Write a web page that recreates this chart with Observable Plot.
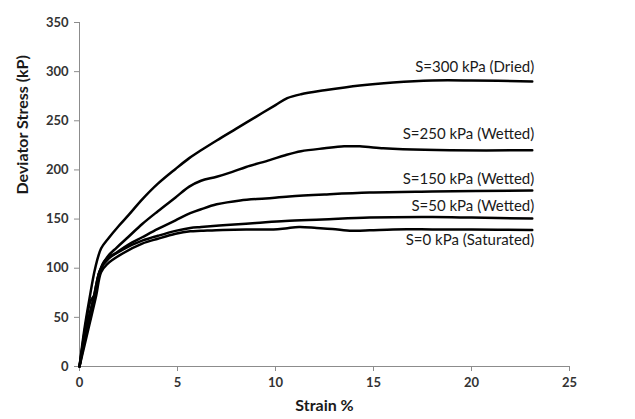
<!DOCTYPE html>
<html><head><meta charset="utf-8">
<script src="https://cdn.jsdelivr.net/npm/d3@7"></script>
<script src="https://cdn.jsdelivr.net/npm/@observablehq/plot@0.6"></script>
<style>body{margin:0;background:#fff}</style>
</head><body><div id="chart"></div>
<script>
// Series data (strain %, deviator stress kPa)
const strain300 = [0,0.25,0.5,0.8,1.1,1.5,2.0,2.5,3.2,4.0,4.9,5.6,6.2,7,8,9,10,10.6,11.3,12.5,14.3,16,18,20,23.1];
const stress300 = [0,38,68,100,120,131,143,154,170,186,201,212,220,230,242,254,266,273,277,281,286,289,291,291,290];

const strain250 = [0,0.3,0.55,0.8,1.0,1.4,1.9,2.5,3.2,4.0,4.9,5.6,6.2,7.0,7.8,8.5,9.7,10.5,11.3,12.5,13.5,14.3,15.5,16.5,18.9,23.1];
const stress250 = [0,40,66,74,95,111,121,132,145,158,172,183,189,193,198,203,210,215,219,222,224,224,222,221,220,220];

const strain150 = [0,0.35,0.7,1.0,1.3,1.9,2.5,3.2,4.0,4.9,5.65,6.2,7.0,8.2,9.5,10.7,12.5,14.8,18,23.1];
const stress150 = [0,40,68,95,108,116,124,131.5,140,148.7,156,160,165,169,171,173,175,177,178,179];

const strain50 = [0,0.4,0.75,1.05,1.5,2.3,3.2,4.0,4.9,5.65,6.2,7.5,9.0,10.5,12.4,14.8,18,20,23.1];
const stress50 = [0,40,72,98,110,120,128,133,138,141,142,144,146,148,149.5,151.5,152,151.5,150.5];

const strain0 = [0,0.45,0.85,1.1,1.4,2.2,3.2,4.0,4.9,5.65,6.2,7.3,8.5,9.9,10.5,11.2,12.1,12.9,13.9,14.8,16,18,20,23.1];
const stress0 = [0,38,72,96,104,115,125,130,135,137.5,138,139,139.5,139.5,140.5,142,141,140,138.2,138.5,139.5,139.5,139.3,139];

const seriesNames = ["S=300 kPa (Dried)","S=250 kPa (Wetted)","S=150 kPa (Wetted)","S=50 kPa (Wetted)","S=0 kPa (Saturated)"];
const labelStrain = [23.1,23.1,23.1,23.1,23.1];
const labelStress = [304.5,236,191,163,129];

const xTicks = [0,5,10,15,20,25];
const yTicks = [0,50,100,150,200,250,300,350];

const seriesX = [strain300,strain250,strain150,strain50,strain0];
const seriesY = [stress300,stress250,stress150,stress50,stress0];
const rows = [];
seriesNames.forEach((name,i)=>{
  seriesX[i].forEach((x,j)=>rows.push({series:name,strain:x,stress:seriesY[i][j]}));
});
const labels = seriesNames.map((name,i)=>({text:name,strain:labelStrain[i],stress:labelStress[i]}));

const axisColor = "#8c8c8c";
const textColor = "#333";

const chart = Plot.plot({
  width:635, height:419,
  marginLeft:79, marginRight:66, marginTop:22, marginBottom:53,
  style:{fontFamily:"Lato, 'Open Sans', sans-serif", background:"#fff"},
  x:{domain:[0,25], label:null},
  y:{domain:[0,350], label:null},
  marks:[
    Plot.axisX({ticks:xTicks, tickSize:5, tickPadding:6, stroke:axisColor, fill:textColor, fontWeight:"bold", fontSize:13, label:null}),
    Plot.axisY({ticks:yTicks, tickSize:5, tickPadding:6, stroke:axisColor, fill:textColor, fontWeight:"bold", fontSize:13, label:null}),
    Plot.ruleY([0],{stroke:axisColor}),
    Plot.ruleX([0],{stroke:axisColor}),
    Plot.line(rows,{x:"strain", y:"stress", z:"series", stroke:"#000", strokeWidth:2.5, curve:"catmull-rom"}),
    Plot.text(labels,{x:"strain", y:"stress", text:"text", textAnchor:"end", dx:2, fontSize:15, fill:"#1a1a1a"}),
    Plot.text(["Deviator Stress (kP)"],{frameAnchor:"left", dx:-57, rotate:-90, fontSize:16, fontWeight:"bold", fill:"#1a1a1a"}),
    Plot.text(["Strain %"],{frameAnchor:"bottom", dy:44, fontSize:16, fontWeight:"bold", fill:"#1a1a1a"})
  ]
});
document.getElementById("chart").appendChild(chart);
</script>
</body></html>
